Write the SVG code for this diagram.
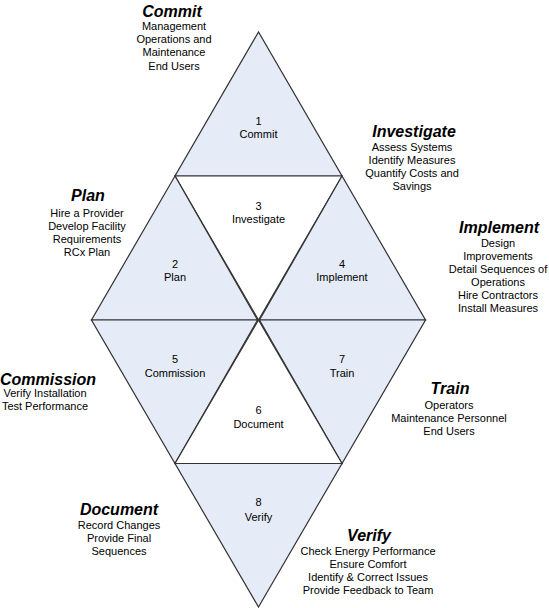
<svg xmlns="http://www.w3.org/2000/svg" width="549" height="608" viewBox="0 0 549 608">
<style>
.tri{stroke:#333;stroke-width:1.2;stroke-linejoin:miter}
.sh{fill:#e5ecf7}
.wh{fill:#ffffff}
text{font-family:"Liberation Sans",Arial,sans-serif;fill:#000;text-anchor:middle}
.lbl{font-size:11px}
.ttl{font-size:16px;font-weight:bold;font-style:italic}
.body{font-size:11px}
</style>
<rect width="549" height="608" fill="#ffffff"/>
<g id="node-1"><polygon class="tri sh" points="258.5,32 175,176 342,176"/><text class="lbl" x="258.5" y="125">1</text><text class="lbl" x="258.5" y="138">Commit</text></g>
<g id="node-3"><polygon class="tri wh" points="175,176 342,176 258.5,320"/><text class="lbl" x="258.5" y="210">3</text><text class="lbl" x="258.5" y="223">Investigate</text></g>
<g id="node-2"><polygon class="tri sh" points="175,176 91.5,320 257.5,320"/><text class="lbl" x="175" y="268">2</text><text class="lbl" x="175" y="281">Plan</text></g>
<g id="node-4"><polygon class="tri sh" points="342,176 259.5,320 425.5,320"/><text class="lbl" x="342" y="268">4</text><text class="lbl" x="342" y="281">Implement</text></g>
<g id="node-5"><polygon class="tri sh" points="91.5,320 257.5,320 175,463.5"/><text class="lbl" x="175" y="363">5</text><text class="lbl" x="175" y="377">Commission</text></g>
<g id="node-7"><polygon class="tri sh" points="259.5,320 425.5,320 342,463.5"/><text class="lbl" x="342" y="363">7</text><text class="lbl" x="342" y="377">Train</text></g>
<g id="node-6"><polygon class="tri wh" points="258.5,320 175,463.5 342,463.5"/><text class="lbl" x="258.5" y="414">6</text><text class="lbl" x="258.5" y="428">Document</text></g>
<g id="node-8"><polygon class="tri sh" points="175,463.5 342,463.5 258.5,607"/><text class="lbl" x="258.5" y="506">8</text><text class="lbl" x="258.5" y="521">Verify</text></g>
<g id="note-commit"><text class="ttl" x="172" y="17">Commit</text><text class="body" x="174" y="30">Management</text><text class="body" x="174" y="43">Operations and</text><text class="body" x="174" y="56">Maintenance</text><text class="body" x="174" y="70">End Users</text></g>
<g id="note-investigate"><text class="ttl" x="414" y="137">Investigate</text><text class="body" x="412" y="151">Assess Systems</text><text class="body" x="412" y="164">Identify Measures</text><text class="body" x="412" y="177">Quantify Costs and</text><text class="body" x="412" y="190">Savings</text></g>
<g id="note-plan"><text class="ttl" x="88" y="201">Plan</text><text class="body" x="87" y="217">Hire a Provider</text><text class="body" x="87" y="230">Develop Facility</text><text class="body" x="87" y="243">Requirements</text><text class="body" x="87" y="256">RCx Plan</text></g>
<g id="note-implement"><text class="ttl" x="499" y="233">Implement</text><text class="body" x="498" y="247">Design</text><text class="body" x="498" y="260">Improvements</text><text class="body" x="498" y="273">Detail Sequences of</text><text class="body" x="498" y="286">Operations</text><text class="body" x="498" y="299">Hire Contractors</text><text class="body" x="498" y="312">Install Measures</text></g>
<g id="note-commission"><text class="ttl" x="48" y="385">Commission</text><text class="body" x="45" y="397">Verify Installation</text><text class="body" x="45" y="410">Test Performance</text></g>
<g id="note-train"><text class="ttl" x="450" y="394">Train</text><text class="body" x="449" y="409">Operators</text><text class="body" x="449" y="422">Maintenance Personnel</text><text class="body" x="449" y="435">End Users</text></g>
<g id="note-document"><text class="ttl" x="119" y="515">Document</text><text class="body" x="119" y="529">Record Changes</text><text class="body" x="119" y="542">Provide Final</text><text class="body" x="119" y="555">Sequences</text></g>
<g id="note-verify"><text class="ttl" x="369" y="541">Verify</text><text class="body" x="368" y="555">Check Energy Performance</text><text class="body" x="368" y="568">Ensure Comfort</text><text class="body" x="368" y="581">Identify &amp; Correct Issues</text><text class="body" x="368" y="594">Provide Feedback to Team</text></g>
</svg>
